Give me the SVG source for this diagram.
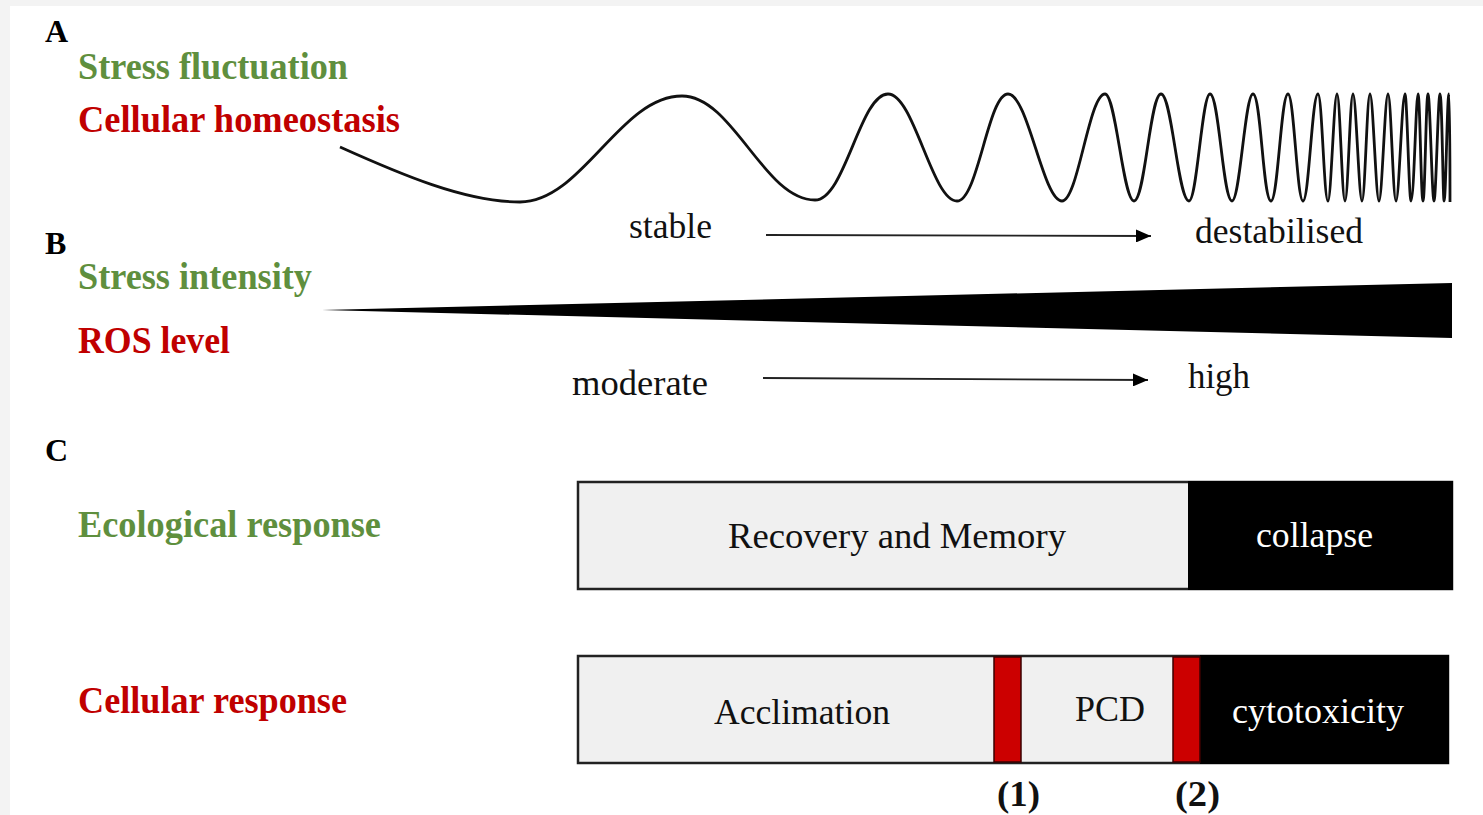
<svg xmlns="http://www.w3.org/2000/svg" width="1483" height="815" viewBox="0 0 1483 815">
  <style>
    .lbl { font-family: "Liberation Serif", "Times New Roman", serif; font-weight: bold; font-size: 37px; }
    .letter { font-family: "Liberation Serif", "Times New Roman", serif; font-weight: bold; font-size: 32px; fill: #000; }
    .green { fill: #5f8f3e; }
    .red { fill: #c00000; }
    .txt { font-family: "Liberation Serif", "Times New Roman", serif; font-size: 36px; fill: #111; }
    .inv { fill: #fff; }
    .num { font-family: "Liberation Serif", "Times New Roman", serif; font-weight: bold; font-size: 35px; fill: #111; }
    .box { fill: #f0f0f0; stroke: #222; stroke-width: 2.5; }
    .dark { fill: #000; }
    .bar { fill: #cc0000; stroke: #3a0000; stroke-width: 1.5; }
    .arrow { stroke: #222; stroke-width: 1.8; fill: none; }
  </style>
  <defs>
    <marker id="head" viewBox="0 0 10 10" refX="10" refY="5" markerWidth="15" markerHeight="13" markerUnits="userSpaceOnUse" orient="auto" preserveAspectRatio="none">
      <path d="M0,0 L10,5 L0,10 Z" fill="#000"/>
    </marker>
  </defs>

  <!-- page -->
  <rect x="0" y="0" width="1483" height="815" fill="#f3f3f3"/>
  <rect x="10" y="6" width="1473" height="809" fill="#fff"/>

  <!-- panel A -->
  <g id="panelA">
    <text class="letter" x="45" y="42">A</text>
    <text class="lbl green" x="78" y="79" textLength="270" lengthAdjust="spacingAndGlyphs">Stress fluctuation</text>
    <text class="lbl red" x="78" y="132" textLength="322" lengthAdjust="spacingAndGlyphs">Cellular homeostasis</text>
    <path id="wave" fill="none" stroke="#111" stroke-width="2.8" stroke-linejoin="round"
      d="M340,147
         C400,174 465,202 520,202
         C582,202 620,96 682,96
         C733,96 764,200 815,200
         C845,200 860,94 888,94
         C914,94 932,201 957,201
         C978,201 988,94 1008,94
         C1028,94 1043,201 1062,201
         C1078,201 1089,94 1105,94
         C1116,94 1123,201 1134,201
         C1145,201 1150,94 1161,94
         C1172,94 1178,201 1189,201
         C1197,201 1202,94 1210,94
         C1219,94 1223,201 1232,201
         C1240,201 1245,94 1253,94
         C1261,94 1263,201 1271,201
         C1278,201 1281,94 1288,94
         C1294,94 1297,201 1303,201
         C1309,201 1312,94 1318,94
         C1322,94 1324,201 1328,201
         C1331,201 1334,94 1337,94
         C1340,94 1342,201 1345,201
         C1348,201 1350,94 1353,94
         C1356,94 1359,201 1362,201
         C1365,201 1367,94 1370,94
         C1373,94 1376,201 1379,201
         C1382,201 1385,94 1388,94
         C1391,94 1393,201 1396,201
         C1399,201 1402,94 1405,94
         C1407,94 1409,201 1411,201
         C1414,201 1416,94 1418,94
         C1420,94 1421,201 1423,201
         C1425,201 1426,94 1428,94
         C1430,94 1432,201 1434,201
         C1436,201 1438,94 1440,94
         C1442,94 1443,201 1444,201
         C1446,201 1447,94 1449,94
         C1450,94 1450,200 1450,202"/>
    <text class="txt" x="629" y="238" textLength="83" lengthAdjust="spacingAndGlyphs">stable</text>
    <text class="txt" x="1195" y="243" textLength="168" lengthAdjust="spacingAndGlyphs">destabilised</text>
  </g>

  <!-- panel B -->
  <g id="panelB">
    <text class="letter" x="45" y="254">B</text>
    <text class="lbl green" x="78" y="289" textLength="234" lengthAdjust="spacingAndGlyphs">Stress intensity</text>
    <text class="lbl red" x="78" y="353" textLength="152" lengthAdjust="spacingAndGlyphs">ROS level</text>
    <polygon id="wedge" points="322,310 1452,283 1452,338" fill="#000"/>
    <text class="txt" x="572" y="395" textLength="136" lengthAdjust="spacingAndGlyphs">moderate</text>
    <text class="txt" x="1188" y="388" textLength="62" lengthAdjust="spacingAndGlyphs">high</text>
  </g>

  <!-- trend arrows -->
  <g id="connectors">
    <line class="arrow" x1="766" y1="235" x2="1151" y2="236" marker-end="url(#head)"/>
    <line class="arrow" x1="763" y1="378" x2="1148" y2="380" marker-end="url(#head)"/>
  </g>

  <!-- panel C -->
  <g id="panelC">
    <text class="letter" x="45" y="461">C</text>
    <text class="lbl green" x="78" y="537" textLength="303" lengthAdjust="spacingAndGlyphs">Ecological response</text>
    <text class="lbl red" x="78" y="713" textLength="269" lengthAdjust="spacingAndGlyphs">Cellular response</text>
  </g>

  <g id="ecological">
    <rect class="box" x="578" y="482" width="874" height="107"/>
    <rect class="dark" x="1188" y="481" width="265" height="109"/>
    <text class="txt" x="728" y="548" textLength="338" lengthAdjust="spacingAndGlyphs">Recovery and Memory</text>
    <text class="txt inv" x="1256" y="547" textLength="117" lengthAdjust="spacingAndGlyphs">collapse</text>
  </g>

  <g id="cellular">
    <rect class="box" x="578" y="656" width="870" height="107"/>
    <rect class="dark" x="1200" y="655" width="249" height="109"/>
    <rect class="bar" x="994" y="657" width="27" height="105"/>
    <rect class="bar" x="1173" y="657" width="27" height="105"/>
    <text class="txt" x="714" y="724" textLength="176" lengthAdjust="spacingAndGlyphs">Acclimation</text>
    <text class="txt" x="1075" y="721" textLength="70" lengthAdjust="spacingAndGlyphs">PCD</text>
    <text class="txt inv" x="1232" y="723" textLength="172" lengthAdjust="spacingAndGlyphs">cytotoxicity</text>
    <text class="num" x="997" y="806" textLength="43" lengthAdjust="spacingAndGlyphs">(1)</text>
    <text class="num" x="1175" y="806" textLength="45" lengthAdjust="spacingAndGlyphs">(2)</text>
  </g>
</svg>
